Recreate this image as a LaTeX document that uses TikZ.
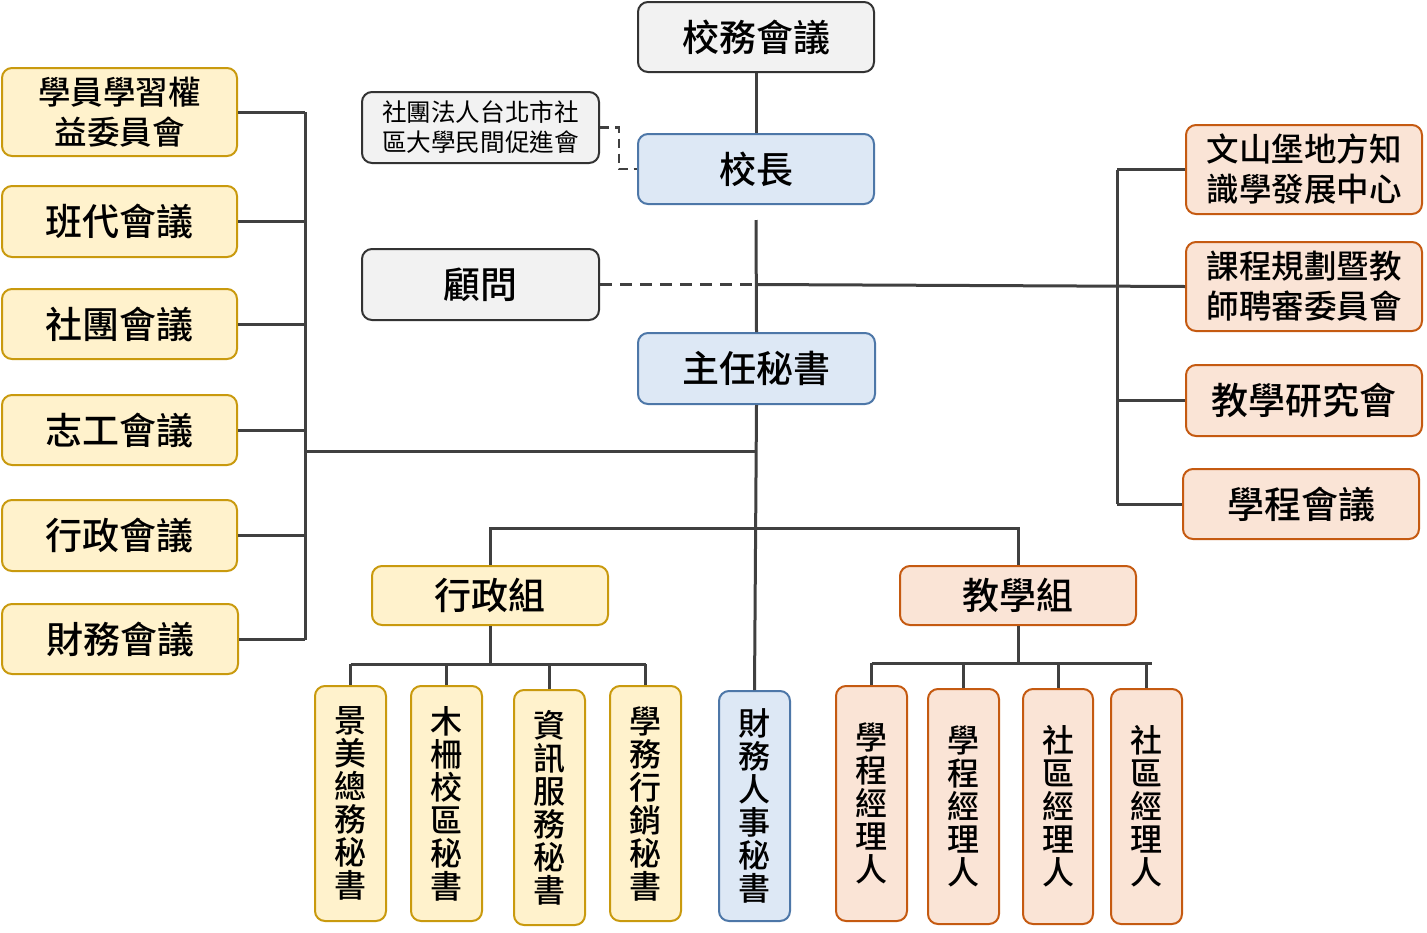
\documentclass[tikz,border=0pt]{standalone}
\usepackage{fontspec}
\newfontfamily\cjk{Noto Sans CJK TC}[BoldFont={Noto Sans CJK TC Medium}]
\definecolor{ln}{HTML}{404040}
\definecolor{gfill}{HTML}{F2F2F2}
\definecolor{gdraw}{HTML}{333333}
\definecolor{bfill}{HTML}{DDE8F5}
\definecolor{bdraw}{HTML}{4D77A8}
\definecolor{yfill}{HTML}{FFF2CC}
\definecolor{ydraw}{HTML}{C99A0E}
\definecolor{ofill}{HTML}{FAE4D6}
\definecolor{odraw}{HTML}{C55A11}
\tikzset{
  box/.style={rectangle, rounded corners=10pt, line width=2pt, inner sep=0pt, align=center, text=black},
  graybox/.style={box, fill=gfill, draw=gdraw},
  bluebox/.style={box, fill=bfill, draw=bdraw},
  yelbox/.style={box, fill=yfill, draw=ydraw},
  orbox/.style={box, fill=ofill, draw=odraw},
  big/.style={font=\cjk\bfseries\fontsize{37}{42}\selectfont},
  two/.style={font=\cjk\bfseries\fontsize{32.5}{40}\selectfont},
  small/.style={font=\cjk\fontsize{24.6}{30}\selectfont},
  vert/.style={font=\cjk\bfseries\fontsize{32}{33}\selectfont},
  conn/.style={draw=ln, line width=3pt},
  dconn/.style={draw=ln, line width=3pt, dash pattern=on 12pt off 8pt},
}
\begin{document}
\begin{tikzpicture}[x=1pt,y=-1pt]
\useasboundingbox (0,0) rectangle (1427,932);
\fill[white] (0,0) rectangle (1427,932);
% top
\node[graybox, big, minimum width=236pt, minimum height=70pt] (council) at (756,37) {校務會議};
\node[bluebox, big, minimum width=236pt, minimum height=70pt] (prin) at (756,169) {校長};
\node[graybox, small, minimum width=237pt, minimum height=71pt] (assoc) at (480.5,127.5) {社團法人台北市社\\區大學民間促進會};
\node[graybox, big, minimum width=237pt, minimum height=71pt] (adv) at (480.5,284.5) {顧問};
\node[bluebox, big, minimum width=237pt, minimum height=71pt] (chief) at (756.5,368.5) {主任秘書};
% left
\node[yelbox, two, minimum width=235pt, minimum height=88pt] (l1) at (119.5,112) {學員學習權\\益委員會};
\node[yelbox, big, minimum width=235pt, minimum height=71pt] (l2) at (119.5,221.5) {班代會議};
\node[yelbox, big, minimum width=235pt, minimum height=70pt] (l3) at (119.5,324) {社團會議};
\node[yelbox, big, minimum width=235pt, minimum height=70pt] (l4) at (119.5,430) {志工會議};
\node[yelbox, big, minimum width=235pt, minimum height=71pt] (l5) at (119.5,535.5) {行政會議};
\node[yelbox, big, minimum width=236pt, minimum height=70pt] (l6) at (120,639) {財務會議};
% right
\node[orbox, two, minimum width=236pt, minimum height=89pt] (r1) at (1304,169.5) {文山堡地方知\\識學發展中心};
\node[orbox, two, minimum width=236pt, minimum height=89pt] (r2) at (1304,286.5) {課程規劃暨教\\師聘審委員會};
\node[orbox, big, minimum width=236pt, minimum height=71pt] (r3) at (1304,400.5) {教學研究會};
\node[orbox, big, minimum width=236pt, minimum height=70pt] (r4) at (1301,504) {學程會議};
% groups
\node[yelbox, big, minimum width=236pt, minimum height=59pt] (admin) at (490,595.5) {行政組};
\node[orbox, big, minimum width=236pt, minimum height=59pt] (teach) at (1018,595.5) {教學組};
% admin children
\node[yelbox, vert, minimum width=71pt, minimum height=235pt] (a1) at (350.5,803.5) {景\\美\\總\\務\\秘\\書};
\node[yelbox, vert, minimum width=71pt, minimum height=235pt] (a2) at (446.5,803.5) {木\\柵\\校\\區\\秘\\書};
\node[yelbox, vert, minimum width=71pt, minimum height=235pt] (a3) at (549.5,807.5) {資\\訊\\服\\務\\秘\\書};
\node[yelbox, vert, minimum width=71pt, minimum height=235pt] (a4) at (645.5,803.5) {學\\務\\行\\銷\\秘\\書};
\node[bluebox, vert, minimum width=71pt, minimum height=230pt] (fin) at (754.5,806) {財\\務\\人\\事\\秘\\書};
% teach children
\node[orbox, vert, minimum width=71pt, minimum height=235pt] (t1) at (871.5,803.5) {學\\程\\經\\理\\人};
\node[orbox, vert, minimum width=71pt, minimum height=235pt] (t2) at (963.5,806.5) {學\\程\\經\\理\\人};
\node[orbox, vert, minimum width=70pt, minimum height=235pt] (t3) at (1058,806.5) {社\\區\\經\\理\\人};
\node[orbox, vert, minimum width=71pt, minimum height=235pt] (t4) at (1146.5,806.5) {社\\區\\經\\理\\人};
% coordinates
\coordinate (lbus) at (305,0);
\coordinate (rbus) at (1117,0);
\coordinate (mid) at (757,451);
\coordinate (hb) at (757,528);
\coordinate (ab) at (490,664);
\coordinate (tb) at (1018,663);
\coordinate (pgap) at (756,220);
% center spine
\draw[conn] (council.south) -- (prin.north);
\draw[conn] (pgap) -- (chief.north);
\draw[conn] (chief.south) -- (fin.north);
% assoc dashed
\draw[dconn, dash pattern=on 9pt off 6pt, line width=2.5pt] (assoc.east) -- ++(19,0) |- (prin.west);
% advisor & right bus
\draw[dconn] (adv.east) -- (adv.east -| chief.north);
\draw[conn] (adv.east -| chief.north) -- (r2.west);
\draw[conn] (r1.west -| rbus) -- (r4.west -| rbus);
\foreach \n in {r1,r3,r4} \draw[conn] (\n.west) -- (\n.west -| rbus);
% left bus
\draw[conn] (l1.east -| lbus) -- ([yshift=-1pt]l6.east -| lbus);
\foreach \n in {l1,l2,l3,l4,l5,l6} \draw[conn] (\n.east) -- (\n.east -| lbus);
\draw[conn] (mid -| lbus) -- (mid);
% groups
\draw[conn] (admin.north) -- (admin.north |- hb) -- (teach.north |- hb) -- (teach.north);
\draw[conn] (admin.south) -- (ab);
\draw[conn] (a1.north |- ab) -- (a4.north |- ab);
\foreach \n in {a1,a2,a3,a4} \draw[conn] (\n.north) -- (\n.north |- ab);
\draw[conn] (teach.south) -- (tb);
\draw[conn] (t1.north |- tb) -- ([xshift=5pt]t4.north |- tb);
\foreach \n in {t1,t2,t3,t4} \draw[conn] (\n.north) -- (\n.north |- tb);
\end{tikzpicture}
\end{document}
